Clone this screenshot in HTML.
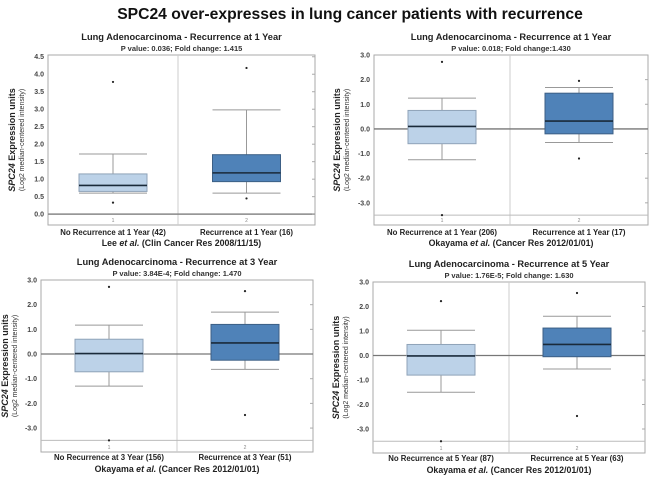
<!DOCTYPE html>
<html><head><meta charset="utf-8"><style>
html,body{margin:0;padding:0;background:#fff;}
svg{display:block;font-family:"Liberation Sans",Arial,sans-serif;}
</style></head><body>
<svg id="c" width="650" height="481" viewBox="0 0 650 481" xmlns="http://www.w3.org/2000/svg">
<text x="350" y="19" text-anchor="middle" font-size="15.7" font-weight="bold" fill="#111">SPC24 over-expresses in lung cancer patients with recurrence</text>
</svg>
<script>
const titles = ["Lung Adenocarcinoma - Recurrence at 1 Year","Lung Adenocarcinoma - Recurrence at 1 Year","Lung Adenocarcinoma - Recurrence at 3 Year","Lung Adenocarcinoma - Recurrence at 5 Year"];
const subtitles = ["P value: 0.036;  Fold change: 1.415","P value: 0.018;  Fold change:1.430","P value: 3.84E-4;  Fold change: 1.470","P value: 1.76E-5;  Fold change: 1.630"];
const categories = [["No Recurrence at 1 Year (42)","Recurrence at 1 Year (16)"],["No Recurrence at 1 Year (206)","Recurrence at 1 Year (17)"],["No Recurrence at 3 Year (156)","Recurrence at 3 Year (51)"],["No Recurrence at 5 Year (87)","Recurrence at 5 Year (63)"]];
const citations = ["Lee et al. (Clin Cancer Res 2008/11/15)","Okayama et al. (Cancer Res 2012/01/01)","Okayama et al. (Cancer Res 2012/01/01)","Okayama et al. (Cancer Res 2012/01/01)"];
// [whiskerLow, q1, median, q3, whiskerHigh]
const noRecStats = [[0.6,0.65,0.82,1.15,1.72],[-1.25,-0.6,0.1,0.75,1.25],[-1.3,-0.72,0.02,0.6,1.17],[-1.5,-0.8,-0.02,0.45,1.03]];
const recStats = [[0.6,0.93,1.18,1.7,2.98],[-0.55,-0.2,0.32,1.45,1.68],[-0.62,-0.25,0.45,1.2,1.7],[-0.55,-0.05,0.45,1.12,1.6]];
const noRecOutliers = [[3.78,0.33],[2.72,-3.5],[2.72,-3.5],[2.22,-3.5]];
const recOutliers = [[4.18,0.45],[1.95,-1.2],[2.55,-2.47],[2.55,-2.47]];
const yTicks = [[0,0.5,1,1.5,2,2.5,3,3.5,4,4.5],[-3,-2,-1,0,1,2,3],[-3,-2,-1,0,1,2,3],[-3,-2,-1,0,1,2,3]];
const yDomains = [[-0.31,4.55],[-3.9,3.0],[-3.97,3.0],[-3.98,3.0]];

const layout = [
 {x0:48,x1:315,y0:55,y1:225,tx:178,lbl:235,cit:246,axx:15},
 {x0:374,x1:648,y0:55,y1:225,tx:510,lbl:235,cit:246,axx:340},
 {x0:41,x1:313,y0:280,y1:452,tx:177,lbl:460,cit:472,axx:8},
 {x0:373,x1:645,y0:282,y1:453,tx:509,lbl:461,cit:473,axx:339}
];
const NS="http://www.w3.org/2000/svg";
const svg=document.getElementById('c');
function el(tag,attrs,parent,text){const e=document.createElementNS(NS,tag);for(const k in attrs)e.setAttribute(k,attrs[k]);if(text!==undefined)e.textContent=text;(parent||svg).appendChild(e);return e;}

layout.forEach((L,i)=>{
  const g=el('g',{});
  
  
  const [dmin,dmax]=yDomains[i];
  const ys=v=>L.y1-(v-dmin)/(dmax-dmin)*(L.y1-L.y0);
  const cx=(L.x0+L.x1)/2;
  const t=el('text',{x:cx,y:L.y0-15,'text-anchor':'middle','font-size':9.3,'font-weight':'bold',fill:'#222'},g,titles[i]);
  
  
  const s=el('text',{x:cx,y:L.y0-4,'text-anchor':'middle','font-size':7.5,'font-weight':'bold',fill:'#333','xml:space':'preserve'},g,subtitles[i]);
  
  
  const r=el('rect',{x:L.x0,y:L.y0,width:L.x1-L.x0,height:L.y1-L.y0,fill:'#fff',stroke:'#aaa','stroke-width':1},g);
  
  
  el('line',{x1:L.tx,x2:L.tx,y1:L.y0,y2:L.y1,stroke:'#ccc','stroke-width':1},g);
  const base = i===0?0:-3.5;
  el('line',{x1:L.x0,x2:L.x1,y1:ys(base),y2:ys(base),stroke:i===0?'#888':'#bbb','stroke-width':i===0?1.5:1},g);
  yTicks[i].forEach(v=>{
    const y=ys(v);
    const tl=el('text',{x:L.x0-4,y:y+2.5,'text-anchor':'end','font-size':7,'font-weight':'bold',fill:'#444'},g,v.toFixed(1));
    
    
    el('line',{x1:L.x1-3,x2:L.x1,y1:y,y2:y,stroke:'#aaa'},g);
  });
  if(i>0){el('line',{x1:L.x0,x2:L.x1,y1:ys(0),y2:ys(0),stroke:'#777','stroke-width':1.3},g);}
  const ay=(L.y0+L.y1)/2;
  const a1=el('text',{x:L.axx,y:ay,transform:`rotate(-90 ${L.axx} ${ay})`,'text-anchor':'middle','font-size':9,'font-weight':'bold',fill:'#222'},g);
  a1.innerHTML='<tspan font-style="italic">SPC24</tspan> Expression units';
  
  
  const a2=el('text',{x:L.axx+9,y:ay,transform:`rotate(-90 ${L.axx+9} ${ay})`,'text-anchor':'middle','font-size':7,fill:'#333'},g,'(Log2 median-centered intensity)');
  
  
  const groups=[[noRecStats[i],noRecOutliers[i],'#bcd2e8','#8fa3b8',(L.x0+L.tx)/2],[recStats[i],recOutliers[i],'#4f82b8','#3c5f85',(L.tx+L.x1)/2]];
  groups.forEach((G,j)=>{
    const [st,out,fill,stroke,gx]=G;
    const hw=34;
    const bg=el('g',{},g);
    
    
    el('line',{x1:gx,x2:gx,y1:ys(st[0]),y2:ys(st[4]),stroke:'#999','stroke-width':1},bg);
    el('line',{x1:gx-hw,x2:gx+hw,y1:ys(st[0]),y2:ys(st[0]),stroke:'#999','stroke-width':1},bg);
    el('line',{x1:gx-hw,x2:gx+hw,y1:ys(st[4]),y2:ys(st[4]),stroke:'#999','stroke-width':1},bg);
    el('rect',{x:gx-hw,y:ys(st[3]),width:hw*2,height:ys(st[1])-ys(st[3]),fill:fill,stroke:stroke,'stroke-width':1},bg);
    el('line',{x1:gx-hw,x2:gx+hw,y1:ys(st[2]),y2:ys(st[2]),stroke:'#1a2a3a','stroke-width':1.6},bg);
    out.forEach(o=>{
      const c=el('circle',{cx:gx,cy:ys(o),r:1.1,fill:'#222'},bg);
      
      
    });
    el('text',{x:gx,y:L.y1-3,'text-anchor':'middle','font-size':5,fill:'#888'},g,String(j+1));
    const cl=el('text',{x:gx,y:L.lbl,'text-anchor':'middle','font-size':7.8,'font-weight':'bold',fill:'#222'},g,categories[i][j]);
    
    
  });
  const parts=citations[i].split(' et al.');
  const ct=el('text',{x:cx,y:L.cit,'text-anchor':'middle','font-size':8.8,'font-weight':'bold',fill:'#222'},g);
  ct.innerHTML=parts[0]+' <tspan font-style="italic">et al.</tspan>'+parts[1];
  
  
});
</script>
</body></html>
